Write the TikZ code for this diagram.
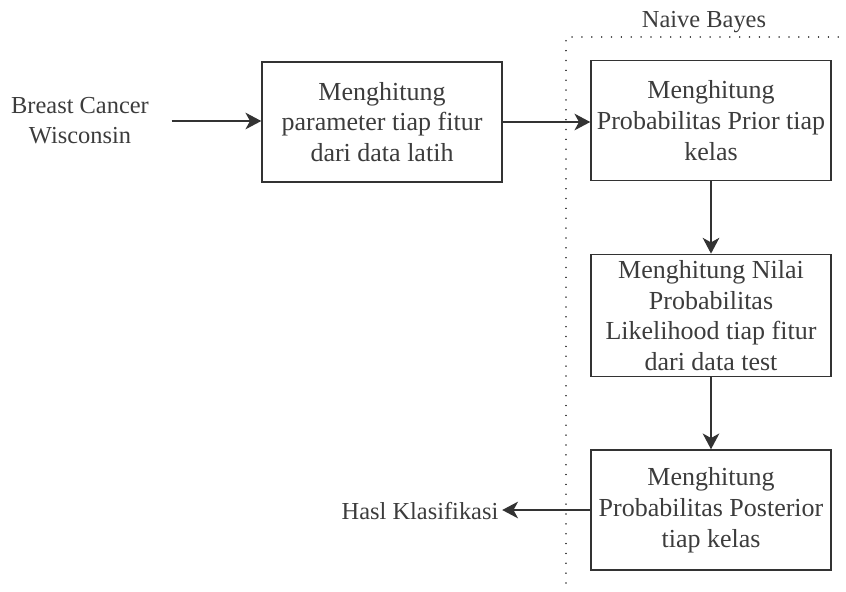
\documentclass[tikz,border=0pt]{standalone}
\usepackage{fontspec}
\setmainfont{Liberation Serif}
\definecolor{linegray}{RGB}{51,51,51}
\definecolor{textgray}{RGB}{60,60,60}
\usetikzlibrary{arrows.meta,positioning,calc}
\tikzset{
  conn/.style={-{Stealth[length=9pt,width=9.5pt,inset=2.6pt]},line width=0.85pt,linegray},
  label txt/.style={font=\fontsize{13.9}{17}\selectfont,text=textgray,align=center},
}

\begin{document}
\begin{tikzpicture}[
      procbox/.style={rectangle,draw=linegray,line width=0.85pt,
                      minimum width=4.8cm,minimum height=2.4cm,
                      align=center,text=textgray,
                      font=\fontsize{14.8}{17.5}\selectfont},
    ]
    \useasboundingbox (0,0) rectangle (16.92,-11.82);

    \node[label txt,inner xsep=0.45cm] (src) at (1.6,-2.42) {Breast Cancer\\Wisconsin};
    \node[procbox] (param) at (7.64,-2.44) {Menghitung\\parameter tiap fitur\\dari data latih};
    \node[procbox] (prior) at (14.22,-2.41) {Menghitung\\Probabilitas Prior tiap\\kelas};
    \node[procbox] (like) at (14.22,-6.31) {Menghitung Nilai\\Probabilitas\\Likelihood tiap fitur\\dari data test};
    \node[procbox] (post) at (14.22,-10.2) {Menghitung\\Probabilitas Posterior\\tiap kelas};
    \node[label txt,inner sep=2pt] (hasil) at (8.4,-10.22) {Hasl Klasifikasi};

    \draw[conn] (src.east) -- (src.east -| param.west);
    \draw[conn] (param.east) -- (param.east -| prior.west);
    \draw[conn] (prior) -- (like);
    \draw[conn] (like) -- (post);
    \draw[conn] (post.west) -- (hasil.east |- post.west);

    % Naive Bayes area
    \draw[linegray,line width=0.9pt,dash pattern=on 0.01pt off 5.6pt,line cap=round]
      (11.32,-11.66) -- (11.32,-0.74) -- (16.92,-0.74);
    \node[label txt] (nb) at (14.08,-0.44) {Naive Bayes};

  \end{tikzpicture}
\end{document}
